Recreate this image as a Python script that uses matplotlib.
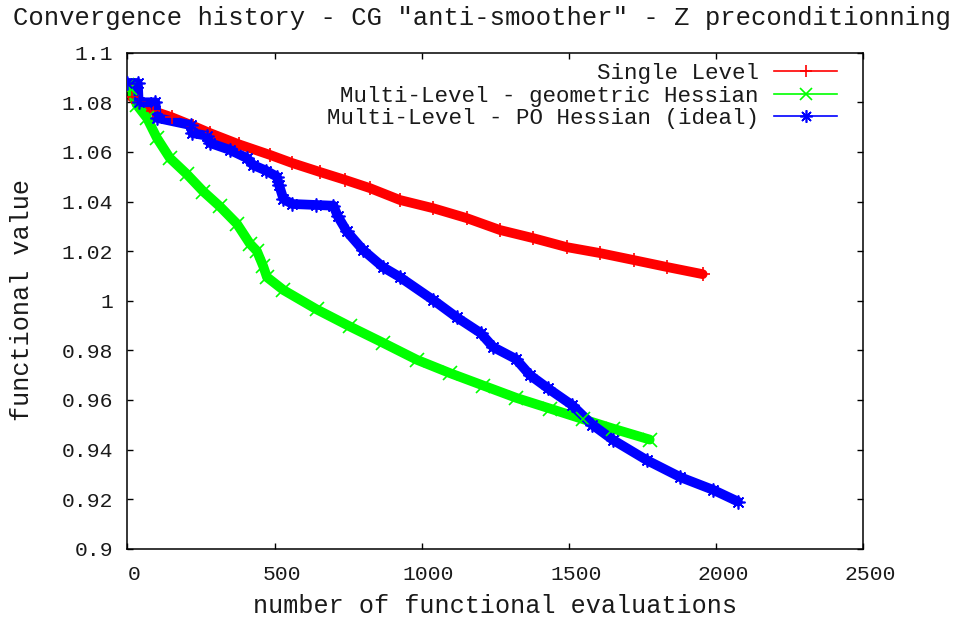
import matplotlib
matplotlib.use('Agg')
import matplotlib.pyplot as plt
from matplotlib.lines import Line2D
import matplotlib.transforms as mtransforms

plt.rcParams['font.family'] = ['Liberation Mono', 'DejaVu Sans Mono']

# ---- data ----
single_x = [0, 15, 40, 87, 150, 223, 280, 380, 484, 560, 654, 740, 824, 926,
            1039, 1153, 1266, 1380, 1493, 1606, 1720, 1833, 1955]
single_y = [1.0870, 1.0820, 1.0800, 1.0765, 1.0740, 1.0705, 1.0676, 1.0630, 1.0588,
            1.0555, 1.0519, 1.0487, 1.0454, 1.0406, 1.0373, 1.0333, 1.0285, 1.0252,
            1.0216, 1.0192, 1.0164, 1.0136, 1.0107]

geo_x = [0, 8, 32, 66, 100, 144, 202, 258, 314, 372, 416, 440, 461, 474, 530,
         643, 756, 869, 983, 1096, 1209, 1322, 1436, 1549, 1651, 1775]
geo_y = [1.0870, 1.0858, 1.0789, 1.0737, 1.0656, 1.0575, 1.0510, 1.0440, 1.0380,
         1.0310, 1.0230, 1.0200, 1.0140, 1.0095, 1.0043, 0.9965, 0.9896, 0.9830,
         0.9762, 0.9708, 0.9658, 0.9608, 0.9565, 0.9522, 0.9484, 0.9440]

po_x = [0, 35, 38, 95, 100, 215, 220, 270, 280, 348, 406, 427, 470, 508, 515,
        530, 560, 640, 700, 715, 745, 801, 869, 926, 1040, 1119, 1200, 1243,
        1320, 1368, 1430, 1510, 1580, 1651, 1765, 1878, 1991, 2075]
po_y = [1.0878, 1.0878, 1.0800, 1.0800, 1.0737, 1.0708, 1.0676, 1.0665, 1.0636,
        1.0608, 1.0575, 1.0547, 1.0525, 1.0500, 1.0467, 1.0410, 1.0390, 1.0386,
        1.0383, 1.0340, 1.0280, 1.0204, 1.0135, 1.0095, 1.0002, 0.9933, 0.9870,
        0.9813, 0.9765, 0.9700, 0.9646, 0.9580, 0.9500, 0.9438, 0.9357, 0.9289,
        0.9237, 0.9190]

labels = ["Single Level", "Multi-Level - geometric Hessian",
          "Multi-Level - PO Hessian (ideal)"]
x_ticks = [0, 500, 1000, 1500, 2000, 2500]
x_ticklabels = ["0", "500", "1000", "1500", "2000", "2500"]
y_ticks = [0.9, 0.92, 0.94, 0.96, 0.98, 1.0, 1.02, 1.04, 1.06, 1.08, 1.1]
y_ticklabels = ["0.9", "0.92", "0.94", "0.96", "0.98", "1", "1.02", "1.04",
                "1.06", "1.08", "1.1"]

title = 'Convergence history - CG "anti-smoother" - Z preconditionning'
xlabel = "number of functional evaluations"
ylabel = "functional value"

# ---- figure ----
W, H = 958, 620
FS_TICK = 15.4
FS_LEG = 16.2
FS_LAB = 18.1
FS_TITLE = 18.45
TXT = '#1a1a1a'
fig = plt.figure(figsize=(W / 100, H / 100), dpi=100)
L, R, T, B = 127.5, 863, 52.7, 548.7
ax = fig.add_axes([L / W, 1 - B / H, (R - L) / W, (B - T) / H])

colors = ['#ff0000', '#00ff00', '#0000ff']
markers = ['+', 'x', (8, 2, 0)]
series = [(single_x, single_y), (geo_x, geo_y), (po_x, po_y)]

for (xs, ys), c, m in zip(series, colors, markers):
    ax.plot(xs, ys, color=c, lw=7, solid_joinstyle='round', solid_capstyle='round',
            zorder=2)
    ax.plot(xs, ys, color=c, lw=0, marker=m, ms=10, mew=1.2, zorder=3)

ax.set_xlim(0, 2500)
ax.set_ylim(0.9, 1.1)
ax.set_xticks(x_ticks)
ax.set_xticklabels(x_ticklabels)
ax.set_yticks(y_ticks)
ax.set_yticklabels(y_ticklabels)
ax.tick_params(direction='in', top=True, right=True, length=4.5, width=1,
               labelsize=FS_TICK, labelcolor=TXT)
ax.tick_params(axis='y', pad=10.4)
ax.tick_params(axis='x', pad=11.5)
for sp in ax.spines.values():
    sp.set_linewidth(1.1)

offset = mtransforms.ScaledTranslation(7 / 100, 0, fig.dpi_scale_trans)
for lab in ax.get_xticklabels():
    lab.set_transform(lab.get_transform() + offset)

handles = [Line2D([], [], color=c, lw=1.2, marker=m, ms=9, mew=1.2)
           for c, m in zip(colors, markers)]
fs_px = FS_LEG * 100 / 72
leg = ax.legend(handles, labels, loc='upper right',
                bbox_to_anchor=(837 / W, 1 - 63 / H), bbox_transform=fig.transFigure,
                frameon=False, markerfirst=False, fontsize=FS_LEG,
                handlelength=63 / fs_px, handletextpad=15 / fs_px,
                labelspacing=0.07, borderpad=0, borderaxespad=0)
for t in leg.get_texts():
    t.set_color(TXT)

fig.text(482 / W, 1 - 18 / H, title, ha='center', va='center',
         fontsize=FS_TITLE, color=TXT)
fig.text(495 / W, 1 - 606 / H, xlabel, ha='center', va='center',
         fontsize=FS_LAB, color=TXT)
fig.text(22 / W, 1 - 300 / H, ylabel, ha='center', va='center',
         fontsize=FS_LAB, rotation=90, color=TXT)

fig.savefig('out.png', dpi=100)
